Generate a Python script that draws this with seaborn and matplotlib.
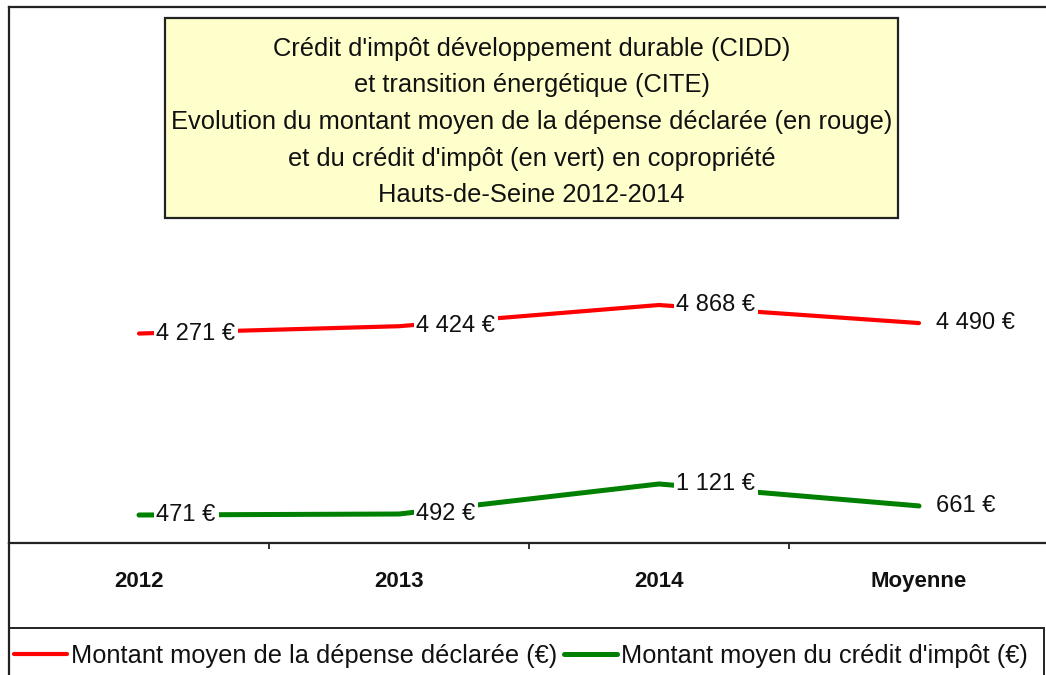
import matplotlib
matplotlib.use("Agg")
import matplotlib.pyplot as plt
from matplotlib.patches import Rectangle
from matplotlib.lines import Line2D
import seaborn as sns
import pandas as pd

categories = ["2012", "2013", "2014", "Moyenne"]
depense = [4271, 4424, 4868, 4490]
credit = [471, 492, 1121, 661]
depense_labels = ["4 271 €", "4 424 €", "4 868 €", "4 490 €"]
credit_labels = ["471 €", "492 €", "1 121 €", "661 €"]
series_names = ["Montant moyen de la dépense déclarée (€)",
                "Montant moyen du crédit d'impôt (€)"]
title_text = ("Crédit d'impôt développement durable (CIDD)\n"
              "et transition énergétique (CITE)\n"
              "Evolution du montant moyen de la dépense déclarée (en rouge)\n"
              "et du crédit d'impôt (en vert) en copropriété\n"
              "Hauts-de-Seine 2012-2014")

sns.set_style("white")
plt.rcParams["font.family"] = ["Liberation Sans", "DejaVu Sans"]

W, H = 1046, 675
fig = plt.figure(figsize=(W / 100, H / 100), dpi=100)
fig.patch.set_facecolor("white")

ax = fig.add_axes([9 / W, (H - 543) / H, 1040 / W, (543 - 7) / H])

x_pos = list(range(len(categories)))
df_dep = pd.DataFrame({"x": x_pos, "v": depense})
df_cre = pd.DataFrame({"x": x_pos, "v": credit})

sns.lineplot(data=df_dep, x="x", y="v", ax=ax, color="#FF0000", linewidth=3.0,
             label=series_names[0], legend=False)
sns.lineplot(data=df_cre, x="x", y="v", ax=ax, color="#008000", linewidth=3.6,
             label=series_names[1], legend=False)

for xs, vals, labs in [(x_pos, depense, depense_labels), (x_pos, credit, credit_labels)]:
    for xi, v, lab in zip(xs, vals, labs):
        ax.annotate(lab, (xi, v), xytext=(12.5, 0), textcoords="offset points",
                    ha="left", va="center", fontsize=17, color="#111111",
                    bbox=dict(boxstyle="square,pad=0.12", fc="white", ec="none"),
                    zorder=5)

ax.set_xlim(-0.5, 3.5)
ax.set_ylim(-115, 11108)
ax.set_xlabel("")
ax.set_ylabel("")
ax.set_yticks([])
ax.set_xticks([-0.5, 0.5, 1.5, 2.5])
ax.set_xticklabels([])
ax.set_xticks(x_pos, minor=True)
ax.set_xticklabels(categories, minor=True, fontsize=16, fontweight="bold", color="#111111")
ax.tick_params(axis="x", which="major", direction="out", length=4, width=1.3,
               color="#222222", bottom=True)
ax.tick_params(axis="x", which="minor", length=0, pad=20)

for s in ["left", "top", "bottom"]:
    ax.spines[s].set_visible(True)
    ax.spines[s].set_color("#222222")
    ax.spines[s].set_linewidth(1.6)
ax.spines["right"].set_visible(False)

# extend the left frame line below the axes
fig.add_artist(Line2D([9 / W, 9 / W], [0, (H - 543) / H], transform=fig.transFigure,
                      color="#222222", linewidth=1.6))

# title box
fig.add_artist(Rectangle((165 / W, (H - 218) / H), (898 - 165) / W, 200 / H,
                         transform=fig.transFigure, facecolor="#FFFFCC",
                         edgecolor="#222222", linewidth=1.6))
fig.text(531.5 / W, 1 - 122 / H, title_text, ha="center", va="center",
         fontsize=18.4, color="#111111", linespacing=1.66)

# legend box
fig.add_artist(Rectangle((9 / W, -10 / H), (1044 - 9) / W, (675 - 628 + 10) / H,
                         transform=fig.transFigure, facecolor="white",
                         edgecolor="#222222", linewidth=1.4, clip_on=False))
handles, labels = ax.get_legend_handles_labels()
fig.legend(handles, labels, loc="center left", bbox_to_anchor=(14 / W, 1 - 656 / H),
           ncol=2, frameon=False, fontsize=18.3, handlelength=2.1,
           handletextpad=0.15, columnspacing=0.25, borderpad=0, borderaxespad=0,
           labelcolor="#111111")

fig.savefig("out.png", dpi=100)
